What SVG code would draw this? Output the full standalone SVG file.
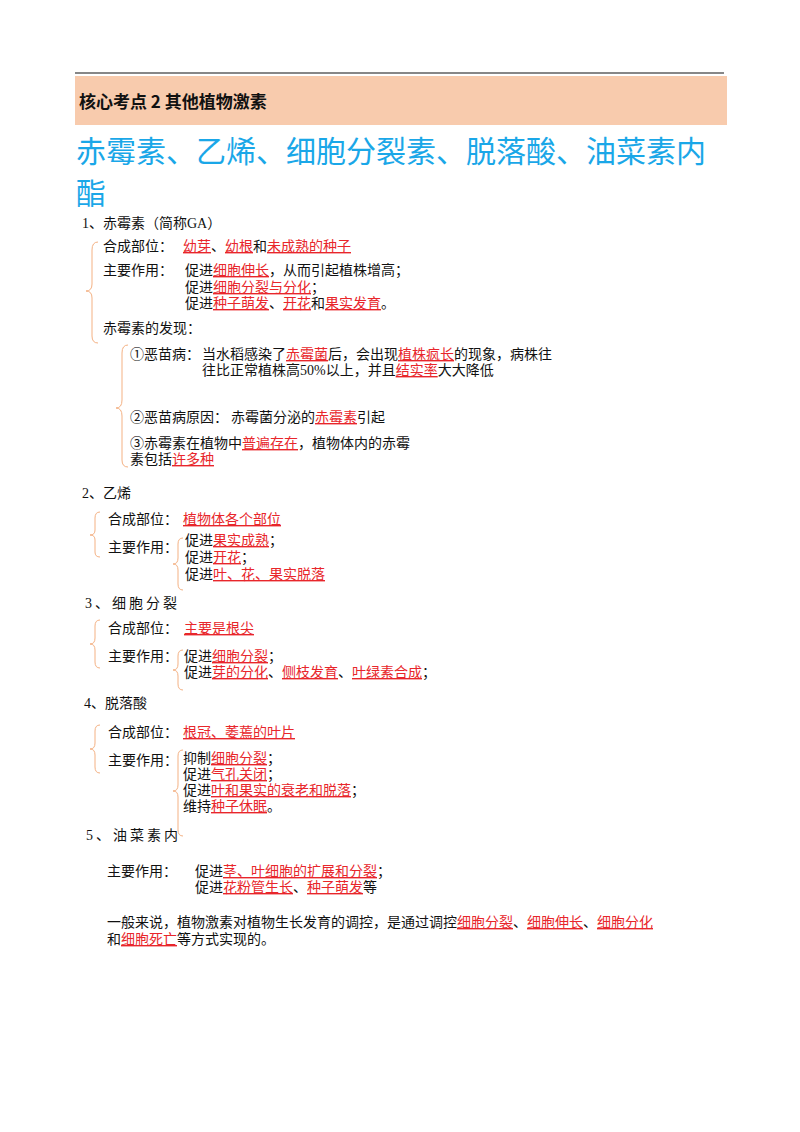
<svg xmlns="http://www.w3.org/2000/svg" width="800" height="1132" viewBox="0 0 800 1132">
<style>
text{font-family:"Liberation Serif","Noto Sans CJK SC",serif;font-size:14px;fill:#111}
.r{fill:#e8262b;text-decoration:underline}
.b{fill:none;stroke:#f4b183;stroke-width:1}
.sp{letter-spacing:3px}
</style>
<rect width="800" height="1132" fill="#fff"/>
<g id="header">
<line x1="75" y1="73" x2="724" y2="73" stroke="#111" stroke-width="1.2"/>
<rect x="75" y="76" width="652" height="49" fill="#f8cbad"/>
<text x="79" y="108" style="font-family:'Noto Sans CJK SC',sans-serif;font-size:17px;font-weight:bold">核心考点 2  其他植物激素</text>
<text x="76" y="162" style="font-family:'Noto Sans CJK SC',sans-serif;font-size:30px;fill:#1aa7e8">赤霉素、乙烯、细胞分裂素、脱落酸、油菜素内</text>
<text x="76" y="204" style="font-family:'Noto Sans CJK SC',sans-serif;font-size:30px;fill:#1aa7e8">酯</text>
</g>
<g id="braces">
<path class="b" d="M98 242 Q92 242 92 250 L92 284 Q92 291 86 291 Q92 291 92 298 L92 336 Q92 343 98 343"/>
<path class="b" d="M128 345 Q122 345 122 353 L122 400 Q122 408 116 408 Q122 408 122 416 L122 460 Q122 467 128 467"/>
<path class="b" d="M100 512 Q95 512 95 518 L95 530 Q95 535 90 535 Q95 535 95 540 L95 552 Q95 557 100 557"/>
<path class="b" d="M183 538 Q178 538 178 544 L178 558 Q178 564 173 564 Q178 564 178 570 L178 584 Q178 590 183 590"/>
<path class="b" d="M100 620 Q95 620 95 626 L95 638 Q95 644 90 644 Q95 644 95 650 L95 662 Q95 668 100 668"/>
<path class="b" d="M183 650 Q178 650 178 656 L178 664 Q178 670 173 670 Q178 670 178 676 L178 684 Q178 690 183 690"/>
<path class="b" d="M100 725 Q95 725 95 731 L95 743 Q95 749 90 749 Q95 749 95 755 L95 767 Q95 773 100 773"/>
<path class="b" d="M183 750 Q178 750 178 756 L178 785 Q178 791 173 791 Q178 791 178 797 L178 830 Q178 836 183 836"/>
</g>
<g id="s1">
<text x="82" y="228">1、赤霉素（简称GA）</text>
<text x="103" y="251">合成部位：</text>
<text x="183" y="251"><tspan class="r">幼芽</tspan>、<tspan class="r">幼根</tspan>和<tspan class="r">未成熟的种子</tspan></text>
<text x="103" y="275">主要作用：</text>
<text x="185" y="275">促进<tspan class="r">细胞伸长</tspan>，从而引起植株增高；</text>
<text x="185" y="292">促进<tspan class="r">细胞分裂与分化</tspan>；</text>
<text x="185" y="308">促进<tspan class="r">种子萌发</tspan>、<tspan class="r">开花</tspan>和<tspan class="r">果实发育</tspan>。</text>
<text x="103" y="333">赤霉素的发现：</text>
<text x="130" y="359">①恶苗病：</text>
<text x="202" y="359">当水稻感染了<tspan class="r">赤霉菌</tspan>后，会出现<tspan class="r">植株疯长</tspan>的现象，病株往</text>
<text x="202" y="375">往比正常植株高50%以上，并且<tspan class="r">结实率</tspan>大大降低</text>
<text x="130" y="422">②恶苗病原因：</text>
<text x="231" y="422">赤霉菌分泌的<tspan class="r">赤霉素</tspan>引起</text>
<text x="130" y="448">③赤霉素在植物中<tspan class="r">普遍存在</tspan>，植物体内的赤霉</text>
<text x="130" y="464">素包括<tspan class="r">许多种</tspan></text>
</g>
<g id="s2">
<text x="82" y="498">2、乙烯</text>
<text x="108" y="524">合成部位：</text>
<text x="183" y="524" class="r">植物体各个部位</text>
<text x="108" y="552">主要作用：</text>
<text x="185" y="545">促进<tspan class="r">果实成熟</tspan>；</text>
<text x="185" y="562">促进<tspan class="r">开花</tspan>；</text>
<text x="185" y="579">促进<tspan class="r">叶、花、果实脱落</tspan></text>
</g>
<g id="s3">
<text x="85" y="608" class="sp">3、细胞分裂</text>
<text x="108" y="633">合成部位：</text>
<text x="184" y="633" class="r">主要是根尖</text>
<text x="108" y="661">主要作用：</text>
<text x="184" y="661">促进<tspan class="r">细胞分裂</tspan>；</text>
<text x="184" y="677">促进<tspan class="r">芽的分化</tspan>、<tspan class="r">侧枝发育</tspan>、<tspan class="r">叶绿素合成</tspan>；</text>
</g>
<g id="s4">
<text x="84" y="708">4、脱落酸</text>
<text x="108" y="737">合成部位：</text>
<text x="183" y="737" class="r">根冠、萎蔫的叶片</text>
<text x="108" y="765">主要作用：</text>
<text x="183" y="763">抑制<tspan class="r">细胞分裂</tspan>；</text>
<text x="183" y="779">促进<tspan class="r">气孔关闭</tspan>；</text>
<text x="183" y="795">促进<tspan class="r">叶和果实的衰老和脱落</tspan>；</text>
<text x="183" y="811">维持<tspan class="r">种子休眠</tspan>。</text>
</g>
<g id="s5">
<text x="86" y="840" class="sp">5、油菜素内</text>
<text x="107" y="876">主要作用：</text>
<text x="195" y="876">促进<tspan class="r">茎、叶细胞的扩展和分裂</tspan>；</text>
<text x="195" y="892">促进<tspan class="r">花粉管生长</tspan>、<tspan class="r">种子萌发</tspan>等</text>
<text x="107" y="927">一般来说，植物激素对植物生长发育的调控，是通过调控<tspan class="r">细胞分裂</tspan>、<tspan class="r">细胞伸长</tspan>、<tspan class="r">细胞分化</tspan></text>
<text x="107" y="944">和<tspan class="r">细胞死亡</tspan>等方式实现的。</text>
</g>
<g id="connectors"/>
</svg>
